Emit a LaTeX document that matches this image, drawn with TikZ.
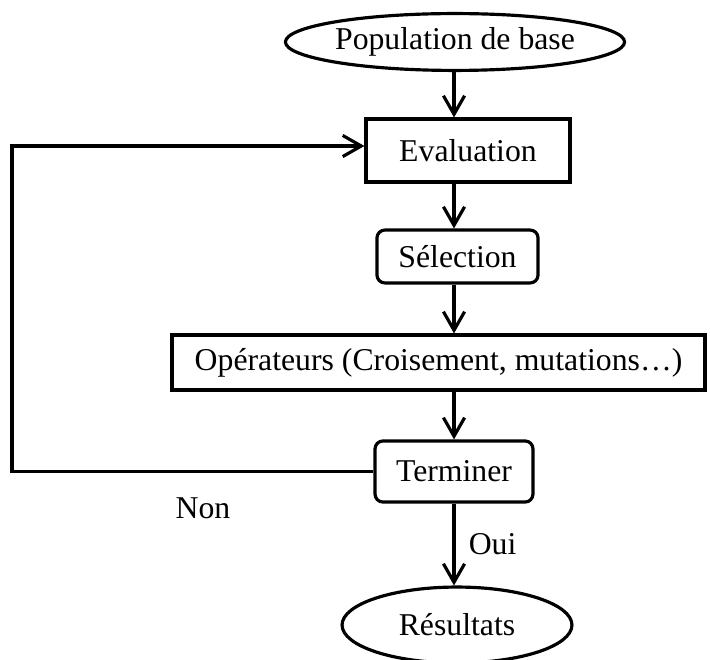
\documentclass[tikz,border=0pt]{standalone}
\usepackage{fontspec}
\setmainfont{Liberation Serif}
\usetikzlibrary{arrows.meta,shapes.geometric}

\begin{document}
\begin{tikzpicture}[x=0.378pt,y=-0.378pt,
    line width=1.2pt,
    font=\fontsize{12}{14}\selectfont,
    every node/.style={inner sep=0pt},
    ovalbox/.style={draw,ellipse},
    rectbox/.style={draw},
    roundbox/.style={draw,rounded corners=3pt},
    flow/.style={-{Straight Barb[length=7pt,width=8pt]}}]

    \useasboundingbox (0,0) rectangle (710,660);

    \node[ovalbox,minimum width=121pt,minimum height=21.5pt] (pop) at (455,42) {Population de base};
    \node[rectbox,minimum width=77.1pt,minimum height=23.8pt] (eval) at (468,150.5) {Evaluation};
    \node[roundbox,minimum width=60.9pt,minimum height=20pt] (sel) at (457.5,256.5) {Sélection};
    \node[rectbox,minimum width=201.5pt,minimum height=20.8pt] (oper) at (438.5,362.5) {Opérateurs (Croisement, mutations…)};
    \node[roundbox,minimum width=59.7pt,minimum height=23.1pt] (term) at (454,471.5) {Terminer};
    \node[ovalbox,minimum width=86.9pt,minimum height=28.7pt] (res) at (457,625) {Résultats};

    \coordinate (axis) at (454,0);
    \coordinate (loopleft) at (12,0);

    \node (non) at (203,508) {Non};

    \draw [flow] (pop.south -| axis)  -- (eval.north -| axis);
    \draw [flow] (eval.south -| axis) -- (sel.north -| axis);
    \draw [flow] (sel.south -| axis)  -- (oper.north -| axis);
    \draw [flow] (oper.south -| axis) -- (term.north -| axis);
    \draw [flow] (term.south -| axis) -- node[right=5pt] {Oui} (res.north -| axis);

    \draw [flow] (term.west) -- (term.west -| loopleft) |- ([yshift=1.7pt]eval.west);

\end{tikzpicture}
\end{document}
